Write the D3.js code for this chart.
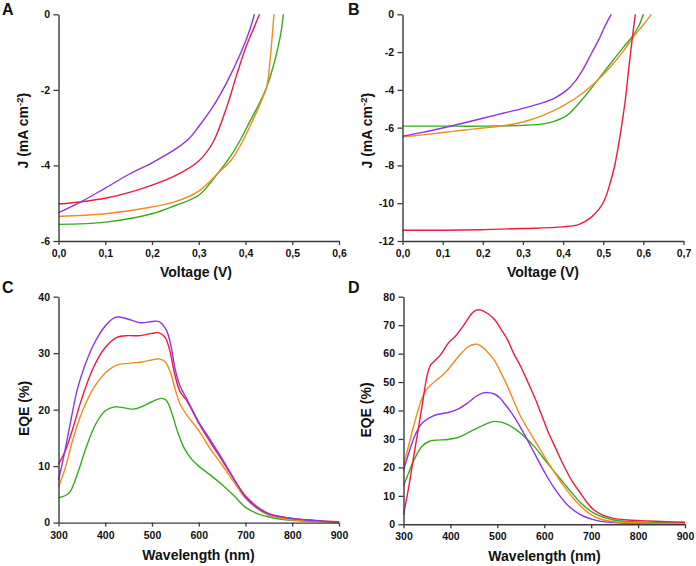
<!DOCTYPE html>
<html><head><meta charset="utf-8">
<script src="https://cdn.jsdelivr.net/npm/d3@7"></script>
<style>
body{margin:0;background:#fff}
svg{display:block}
text{font-family:"Liberation Sans",Arial,Helvetica,sans-serif;font-weight:bold;fill:#111}
</style>
</head><body>
<svg id="chart" width="696" height="566"></svg>
<script>
// ---------- DATA ----------
// Panel A: J-V curves  [voltage (V), J (mA cm-2)]
const jvA_purple = [[0,-5.25],[0.05,-4.95],[0.1,-4.6],[0.15,-4.24],[0.2,-3.93],[0.25,-3.57],[0.28,-3.28],[0.3,-2.97],[0.33,-2.45],[0.36,-1.8],[0.39,-1.02],[0.41,-0.38],[0.419,0]];
const jvA_red = [[0,-5.02],[0.05,-4.96],[0.1,-4.87],[0.15,-4.72],[0.2,-4.52],[0.25,-4.27],[0.3,-3.88],[0.33,-3.4],[0.36,-2.45],[0.38,-1.65],[0.4,-0.9],[0.42,-0.3],[0.43,0]];
const jvA_orange = [[0,-5.35],[0.1,-5.28],[0.2,-5.1],[0.25,-4.96],[0.3,-4.68],[0.34,-4.22],[0.37,-3.85],[0.39,-3.45],[0.41,-2.95],[0.425,-2.55],[0.437,-2.2],[0.4456,-1.92],[0.452,-1.3],[0.457,-0.6],[0.461,0]];
const jvA_green = [[0,-5.56],[0.1,-5.5],[0.2,-5.28],[0.25,-5.06],[0.3,-4.79],[0.34,-4.22],[0.37,-3.72],[0.39,-3.3],[0.41,-2.82],[0.43,-2.35],[0.4456,-1.92],[0.46,-1.35],[0.47,-0.85],[0.477,-0.4],[0.481,0]];

// Panel B: J-V curves
const jvB_purple = [[0,-6.45],[0.05,-6.25],[0.1,-6.02],[0.15,-5.77],[0.2,-5.5],[0.25,-5.24],[0.3,-4.98],[0.35,-4.68],[0.38,-4.42],[0.41,-4.0],[0.43,-3.55],[0.45,-2.9],[0.47,-2.1],[0.49,-1.3],[0.505,-0.6],[0.52,0]];
const jvB_red = [[0,-11.43],[0.1,-11.43],[0.2,-11.4],[0.3,-11.34],[0.4,-11.25],[0.44,-11.12],[0.47,-10.75],[0.49,-10.3],[0.503,-9.84],[0.515,-9.1],[0.528,-8.07],[0.543,-6.3],[0.555,-4.55],[0.564,-2.8],[0.574,-1.0],[0.58,0]];
const jvB_orange = [[0,-6.49],[0.05,-6.38],[0.1,-6.26],[0.15,-6.14],[0.2,-6.02],[0.25,-5.9],[0.3,-5.7],[0.35,-5.35],[0.4,-4.85],[0.45,-4.15],[0.5,-3.2],[0.55,-1.95],[0.575,-1.2],[0.6,-0.55],[0.62,0]];
const jvB_green = [[0,-5.92],[0.1,-5.92],[0.2,-5.92],[0.3,-5.88],[0.35,-5.8],[0.38,-5.65],[0.41,-5.35],[0.45,-4.45],[0.5,-3.1],[0.55,-1.75],[0.575,-1.1],[0.59,-0.55],[0.6,0]];

// Panel C: EQE spectra [wavelength (nm), EQE (%)]
const eqeC_purple = [[300,7.5],[312,12],[325,17.5],[340,23.5],[355,27.5],[375,31.5],[400,34.8],[420,36.3],[430,36.4],[450,36],[475,35.4],[500,35.6],[515,35.6],[530,34.2],[540,31.5],[550,27],[560,24.2],[575,21.8],[600,17.8],[625,14.6],[650,11.3],[675,7.8],[700,4.5],[725,2.6],[750,1.5],[800,0.7],[850,0.35],[900,0.1]];
const eqeC_red = [[300,10.3],[315,12.8],[330,16.5],[350,22],[375,27.5],[400,31],[425,32.8],[450,33.1],[475,33.1],[500,33.5],[515,33.6],[528,32.8],[538,30.5],[548,26.5],[560,23.2],[575,21.5],[600,17.6],[625,14.2],[650,11],[675,7.7],[700,4.7],[725,2.8],[750,1.6],[800,0.75],[850,0.4],[900,0.15]];
const eqeC_orange = [[300,6.3],[315,9.8],[330,14.5],[350,19.5],[375,23.8],[400,26.5],[425,27.9],[450,28.2],[475,28.4],[500,28.8],[515,29],[528,28.5],[540,26.5],[550,23.5],[560,21],[575,19],[600,16.3],[625,13],[650,10.2],[675,7.2],[700,4.3],[725,2.5],[750,1.3],[800,0.5],[850,0.25],[900,0.05]];
const eqeC_green = [[300,4.4],[315,4.8],[325,5.5],[340,8.5],[360,13.5],[380,17.5],[400,19.8],[420,20.5],[435,20.4],[460,20.1],[480,20.6],[500,21.4],[520,22],[530,21.7],[540,20],[555,16],[570,13],[585,11.2],[600,10],[625,8.4],[650,6.7],[675,4.8],[700,2.7],[725,1.6],[750,1.0],[800,0.4],[850,0.2],[900,0.05]];

// Panel D: EQE spectra
const eqeD_purple = [[300,18.9],[312,25.5],[325,31.5],[338,35.2],[353,37.2],[370,38.5],[395,39.3],[416,40.5],[438,42.8],[455,45],[470,46.2],[480,46.3],[494,45.8],[505,44.5],[515,42.5],[536,37.8],[558,31.5],[579,25],[600,18.5],[621,12.8],[649,6.9],[678,3.3],[713,1.3],[748,0.6],[800,0.3],[900,0.2]];
const eqeD_red = [[300,3.3],[310,12],[320,22],[330,32],[340,42],[350,52],[358,56],[370,58],[381,60],[395,63.6],[410,66],[431,70.6],[445,74],[455,75.3],[465,75.3],[480,74],[494,72],[510,68],[522,64.8],[535,60],[550,55.4],[565,50],[579,44.8],[593,39],[607,33],[625,26.5],[642,20.5],[660,15],[678,10.8],[692,7.5],[706,5],[725,3.2],[748,2.1],[780,1.5],[820,1.2],[860,0.9],[900,0.7]];
const eqeD_orange = [[300,20.8],[310,27],[320,33.5],[330,39.5],[340,44.5],[350,47.5],[360,49.2],[375,51.3],[390,53.5],[405,56.5],[420,59.5],[438,62.4],[452,63.3],[462,63],[475,61.3],[494,57.5],[510,52.5],[522,48.4],[536,43],[550,37.8],[565,33.5],[579,29.6],[593,25.8],[607,22],[625,17.5],[642,13.3],[660,9.5],[678,6.3],[692,4.3],[706,2.8],[725,1.6],[748,0.9],[800,0.5],[900,0.3]];
const eqeD_green = [[300,13.5],[312,18.5],[325,23.5],[340,27.5],[355,29.2],[370,29.6],[395,29.8],[416,30.5],[445,32.8],[473,35],[490,36.1],[505,36],[520,35.2],[536,33.7],[558,30.8],[579,27.3],[607,21.4],[625,17.8],[642,14.4],[660,10.8],[678,7.5],[706,3.9],[748,1.5],[800,0.8],[900,0.4]];

// Tick values
const ticksVoltA = [0,0.1,0.2,0.3,0.4,0.5,0.6];
const ticksVoltB = [0,0.1,0.2,0.3,0.4,0.5,0.6,0.7];
const ticksJA = [-6,-4,-2,0];
const ticksJB = [-12,-10,-8,-6,-4,-2,0];
const ticksWave = [300,400,500,600,700,800,900];
const ticksEqeC = [0,10,20,30,40];
const ticksEqeD = [0,10,20,30,40,50,60,70,80];

// ---------- STYLE / LAYOUT ----------
const colors = {purple:"#8c35e8", red:"#ee1a3c", orange:"#f68a1e", green:"#34ad1c"};
const axisColor = "#3a3a3a";

const panels = [
  {letter:"A", lp:[2,15], xd:[0,0.6], yd:[-6,0], xr:[58.5,339], yr:[241,14.3], xt:ticksVoltA, yt:ticksJA,
   xfmt:d=>d.toFixed(1).replace(".",","), xtitle:"Voltage (V)", xtp:[196,277], ytitle:"J", ytp:[28,130.7],
   series:[["green",jvA_green],["orange",jvA_orange],["red",jvA_red],["purple",jvA_purple]]},
  {letter:"B", lp:[348,15], xd:[0,0.7], yd:[-12,0], xr:[402.5,683.5], yr:[241,14.3], xt:ticksVoltB, yt:ticksJB,
   xfmt:d=>d.toFixed(1).replace(".",","), xtitle:"Voltage (V)", xtp:[543,277], ytitle:"J", ytp:[372,130.7],
   series:[["green",jvB_green],["orange",jvB_orange],["purple",jvB_purple],["red",jvB_red]]},
  {letter:"C", lp:[2,293], xd:[300,900], yd:[0,40], xr:[58.5,339], yr:[522.6,296.7], xt:ticksWave, yt:ticksEqeC,
   xfmt:d=>String(d), xtitle:"Wavelength (nm)", xtp:[198.5,560], ytitle:"EQE (%)", ytp:[29,408.5],
   series:[["green",eqeC_green],["orange",eqeC_orange],["red",eqeC_red],["purple",eqeC_purple]]},
  {letter:"D", lp:[348,293], xd:[300,900], yd:[0,80], xr:[403.5,685], yr:[524.3,296.7], xt:ticksWave, yt:ticksEqeD,
   xfmt:d=>String(d), xtitle:"Wavelength (nm)", xtp:[544.5,561], ytitle:"EQE (%)", ytp:[371,410],
   series:[["green",eqeD_green],["purple",eqeD_purple],["orange",eqeD_orange],["red",eqeD_red]]}
];

const svg = d3.select("#chart");

panels.forEach(p => {
  const x = d3.scaleLinear().domain(p.xd).range(p.xr);
  const y = d3.scaleLinear().domain(p.yd).range(p.yr);
  const g = svg.append("g");

  // lines
  const line = d3.line().x(d=>x(d[0])).y(d=>y(d[1])).curve(d3.curveCatmullRom.alpha(0.5));
  p.series.forEach(([c, data]) => {
    g.append("path").attr("d", line(data)).attr("fill","none")
      .attr("stroke", colors[c]).attr("stroke-width",1.4).attr("stroke-linejoin","round");
  });

  // axes
  const xAxis = d3.axisBottom(x).tickValues(p.xt).tickFormat(p.xfmt).tickSize(4).tickSizeOuter(0).tickPadding(4.5);
  const yAxis = d3.axisLeft(y).tickValues(p.yt).tickFormat(d=>String(d)).tickSize(5).tickSizeOuter(0).tickPadding(3.5);
  const gx = g.append("g").attr("transform",`translate(0,${p.yr[0]})`).call(xAxis);
  const gy = g.append("g").attr("transform",`translate(${p.xr[0]},0)`).call(yAxis);
  [gx,gy].forEach(a=>{
    a.select(".domain").attr("stroke",axisColor).attr("stroke-width",1.4);
    a.selectAll(".tick line").attr("stroke",axisColor).attr("stroke-width",1.3);
    a.selectAll(".tick text").attr("fill","#111").style("font-size","10.5px")
      .style("font-family",'"Liberation Sans",Arial,sans-serif').style("font-weight","bold");
  });

  // x title
  g.append("text").attr("x",p.xtp[0]).attr("y",p.xtp[1]).attr("text-anchor","middle")
    .style("font-size","14px").text(p.xtitle);

  // y title
  const yt = g.append("text").attr("text-anchor","middle").style("font-size","14px")
    .attr("transform",`translate(${p.ytp[0]},${p.ytp[1]}) rotate(-90)`);
  if (p.ytitle === "J") {
    yt.append("tspan").text("J (mA cm");
    yt.append("tspan").attr("dy",-5).style("font-size","9.5px").text("-2");
    yt.append("tspan").attr("dy",5).text(")");
  } else {
    yt.text(p.ytitle);
  }

  // panel letter
  g.append("text").attr("x",p.lp[0]).attr("y",p.lp[1]).style("font-size","16px").text(p.letter);
});
</script>
</body></html>
